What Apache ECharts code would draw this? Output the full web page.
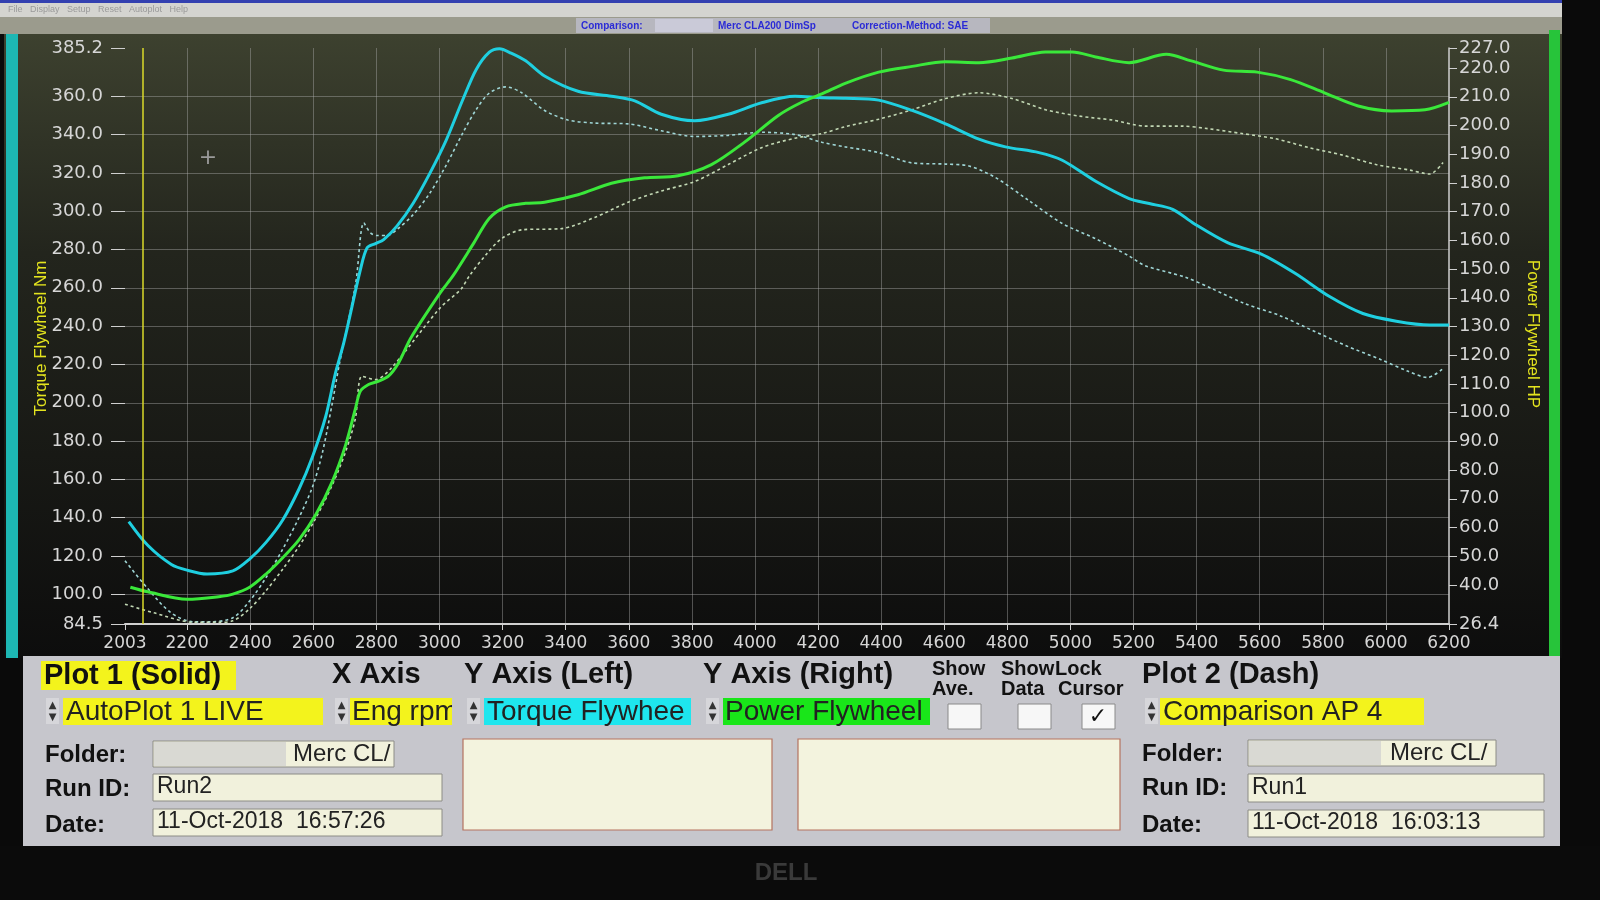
<!DOCTYPE html>
<html><head><meta charset="utf-8">
<script src="https://cdn.jsdelivr.net/npm/echarts@6/dist/echarts.min.js"></script>
<style>html,body{margin:0;padding:0;background:#0a0a0a;}#c{width:1600px;height:900px;}</style>
</head><body><div id="c"></div>
<script>
// ---------- tick labels ----------
const xTicks = [2003, 2200, 2400, 2600, 2800, 3000, 3200, 3400, 3600, 3800, 4000, 4200, 4400, 4600, 4800, 5000, 5200, 5400, 5600, 5800, 6000, 6200];
const leftTicks = [84.5, 100, 120, 140, 160, 180, 200, 220, 240, 260, 280, 300, 320, 340, 360, 385.2];
const rightTicks = [26.4, 40, 50, 60, 70, 80, 90, 100, 110, 120, 130, 140, 150, 160, 170, 180, 190, 200, 210, 220, 227];

// ---------- Plot 1 (Solid, Run2): Torque Flywheel Nm ----------
const rpmTorqueRun2 = [2015, 2075, 2150, 2200, 2263, 2345, 2398, 2450, 2503, 2555, 2597, 2639, 2670, 2697, 2750, 2771, 2797, 2823, 2865, 2917, 2970, 3022, 3074, 3116, 3158, 3190, 3227, 3273, 3333, 3439, 3545, 3619, 3703, 3809, 3915, 4021, 4127, 4212, 4286, 4392, 4498, 4604, 4710, 4794, 4900, 4974, 5080, 5186, 5250, 5324, 5391, 5498, 5605, 5712, 5820, 5927, 6033, 6139, 6200];
const torqueRun2 = [138, 125.6, 115.6, 112.6, 110.6, 112.2, 118.4, 127.1, 138.8, 155.1, 171.7, 192.7, 215.4, 231.6, 270, 281, 283.1, 285.2, 292.2, 304.3, 320, 337.4, 358.3, 373.9, 383, 384.8, 382.5, 378.5, 370.6, 362.6, 360, 357.6, 350.6, 347.2, 350.6, 356.6, 360, 359.2, 359, 358, 352.6, 345.6, 337.6, 333.6, 330.6, 326.6, 315.6, 306.6, 304, 301, 293.6, 283.6, 277.6, 267.6, 255.6, 246.6, 242.6, 240.6, 240.6];

// ---------- Plot 2 (Dash, Run1): Torque Flywheel Nm ----------
const rpmTorqueRun1 = [2003, 2072, 2147, 2221, 2274, 2345, 2398, 2450, 2503, 2555, 2597, 2628, 2660, 2681, 2734, 2760, 2781, 2802, 2834, 2865, 2917, 2970, 3022, 3074, 3116, 3158, 3210, 3259, 3333, 3407, 3492, 3598, 3703, 3809, 3915, 4021, 4127, 4212, 4286, 4392, 4498, 4604, 4678, 4762, 4868, 4974, 5080, 5186, 5236, 5363, 5448, 5555, 5662, 5769, 5876, 5983, 6068, 6132, 6180];
const torqueRun1 = [117.5, 103.6, 90.6, 85.6, 85.6, 87.8, 96.5, 108.7, 123.6, 140.2, 155.9, 173.4, 199.7, 218.9, 262, 293.9, 288.7, 287.3, 287.3, 290.4, 298.3, 309.6, 324.3, 340.9, 353, 361.7, 364.9, 362, 352.6, 347.6, 346, 345.6, 342, 339, 339.6, 341.2, 340, 336, 333.6, 330.6, 325.2, 324.6, 323.6, 317.6, 305.6, 293.6, 285.6, 276.6, 271.6, 265.6, 259.6, 251.6, 245.6, 237.6, 229.6, 222.6, 216.6, 213.2, 217.6];

// ---------- Plot 1 (Solid, Run2): Power Flywheel HP ----------
const rpmPowerRun2 = [2020, 2075, 2200, 2300, 2345, 2398, 2450, 2503, 2555, 2608, 2660, 2702, 2733, 2749, 2775, 2807, 2838, 2870, 2909, 3002, 3043, 3106, 3158, 3210, 3273, 3333, 3439, 3545, 3650, 3756, 3862, 3968, 4074, 4148, 4212, 4286, 4392, 4498, 4604, 4710, 4815, 4921, 5006, 5080, 5186, 5304, 5380, 5485, 5592, 5698, 5805, 5912, 6018, 6124, 6200];
const powerRun2 = [39.2, 37.6, 35.0, 35.9, 36.8, 39.2, 43.8, 49.5, 55.8, 64.5, 76.0, 88.6, 101.2, 107.5, 109.8, 111.0, 112.7, 117.3, 126.0, 141.7, 147.7, 158.6, 167.7, 171.7, 172.9, 173.3, 175.9, 179.9, 181.8, 182.5, 186.4, 194.3, 203.5, 208.1, 211.0, 214.7, 218.6, 220.6, 222.2, 221.9, 223.5, 225.6, 225.6, 223.9, 221.9, 224.8, 222.6, 219.3, 218.6, 216.0, 211.4, 206.8, 205.1, 205.5, 208.1];

// ---------- Plot 2 (Dash, Run1): Power Flywheel HP ----------
const rpmPowerRun1 = [2003, 2094, 2221, 2300, 2345, 2398, 2450, 2503, 2555, 2608, 2660, 2702, 2733, 2754, 2796, 2846, 3002, 3068, 3095, 3148, 3200, 3263, 3386, 3492, 3598, 3703, 3809, 3915, 4021, 4127, 4212, 4286, 4392, 4498, 4604, 4710, 4815, 4921, 5027, 5133, 5239, 5352, 5437, 5544, 5650, 5756, 5863, 5969, 6075, 6139, 6181];
const powerRun1 = [33.3, 30.3, 27.0, 27.0, 27.5, 31.7, 38.0, 45.5, 53.5, 63.3, 74.8, 86.3, 97.8, 112.7, 111.5, 115.4, 136.5, 143.0, 147.7, 155.1, 160.9, 163.7, 164.1, 168.0, 173.3, 177.2, 180.5, 186.4, 192.3, 195.6, 197.2, 199.6, 202.2, 205.5, 209.4, 211.4, 209.4, 205.5, 203.3, 201.9, 199.8, 199.8, 198.9, 197.2, 195.4, 192.3, 189.7, 186.4, 184.5, 183.1, 187.1];

const cursorRpm = 2060;

// ---------- helpers ----------
const zip = (xs, ys) => xs.map((x, i) => [x, ys[i]]);
const AR = '"Liberation Sans", Arial, sans-serif';
function rect(x, y, w, h, fill, extra) {
  return { type: 'rect', z: 10, shape: { x: x, y: y, width: w, height: h }, style: Object.assign({ fill: fill }, extra || {}) };
}
function txt(x, y, text, font, fill, align, extra) {
  return { type: 'text', z: 11, x: x, y: y, style: Object.assign({ text: text, font: font, fill: fill, align: align || 'left', verticalAlign: 'middle' }, extra || {}) };
}
function spinner(x, y) {
  return [
    rect(x, y, 13, 26, '#d6d6da'),
    txt(x + 6.5, y + 7, '▲', '10px "DejaVu Sans"', '#333', 'center'),
    txt(x + 6.5, y + 19, '▼', '10px "DejaVu Sans"', '#333', 'center')
  ];
}
function field(x, y, w, h) {
  return rect(x, y, w, h, '#f1f1dc', { stroke: '#8c8c86', lineWidth: 1 });
}
function bg(x, y, w, h, fill) { const r = rect(x, y, w, h, fill); r.z = -100; return r; }

const graphics = [
  bg(0, 0, 1600, 900, '#0a0a0a'),
  bg(0, 0, 1562, 3, '#3340b0'),
  bg(0, 3, 1562, 14, '#d4d4d0'),
  bg(0, 17, 1562, 17, '#9b9b8d'),
  bg(576, 18, 414, 15, '#b7b7bf'),
  bg(655, 19, 58, 13, '#cacad8'),
  (function () { const r = bg(4, 34, 1558, 624, '#111'); r.style.fill = { type: 'linear', x: 0, y: 0, x2: 0, y2: 1, colorStops: [{ offset: 0, color: '#3d412f' }, { offset: 0.35, color: '#23251d' }, { offset: 1, color: '#0d0d0d' }] }; return r; })(),
  bg(6, 34, 12, 624, '#1db7b3'),
  bg(1549, 30, 11, 628, '#27c43a'),
  bg(23, 656, 1537, 190, '#c6c6cc'),
  bg(0, 846, 1600, 54, '#0b0b0b'),
  txt(8, 10, 'File   Display   Setup   Reset   Autoplot   Help', '9px ' + AR, '#9a9a9a'),
  txt(581, 26, 'Comparison:', 'bold 10px ' + AR, '#2b2bd6'),
  txt(718, 26, 'Merc CLA200 DimSp', 'bold 10px ' + AR, '#2b2bd6'),
  txt(852, 26, 'Correction-Method: SAE', 'bold 10px ' + AR, '#2b2bd6'),
  txt(786, 873, 'DELL', 'bold 24px ' + AR, '#3a3a3a', 'center'),
  txt(208, 158, '+', '22px "DejaVu Sans"', '#9a9a9a', 'center'),
  // axis titles
  { type: 'text', z: 11, x: 41, y: 338, rotation: Math.PI / 2, style: { text: 'Torque Flywheel Nm', font: '17px ' + AR, fill: '#e4e41e', align: 'center', verticalAlign: 'middle' } },
  { type: 'text', z: 11, x: 1533, y: 334, rotation: -Math.PI / 2, style: { text: 'Power Flywheel HP', font: '17px ' + AR, fill: '#e4e41e', align: 'center', verticalAlign: 'middle' } },
  // panel headers
  rect(41, 661, 195, 29, '#f3f31c'),
  txt(44, 676, 'Plot 1 (Solid)', 'bold 29px ' + AR, '#111'),
  txt(332, 675, 'X Axis', 'bold 29px ' + AR, '#111'),
  txt(464, 675, 'Y Axis (Left)', 'bold 29px ' + AR, '#111'),
  txt(703, 675, 'Y Axis (Right)', 'bold 29px ' + AR, '#111'),
  txt(932, 669, 'Show', 'bold 20px ' + AR, '#111'),
  txt(932, 689, 'Ave.', 'bold 20px ' + AR, '#111'),
  txt(1001, 669, 'Show', 'bold 20px ' + AR, '#111'),
  txt(1001, 689, 'Data', 'bold 20px ' + AR, '#111'),
  txt(1055, 669, 'Lock', 'bold 20px ' + AR, '#111'),
  txt(1058, 689, 'Cursor', 'bold 20px ' + AR, '#111'),
  txt(1142, 675, 'Plot 2 (Dash)', 'bold 29px ' + AR, '#111'),
  // selectors
  ...spinner(46, 698),
  rect(63, 698, 260, 27, '#f3f31c'),
  txt(66, 712, 'AutoPlot 1 LIVE', '28px ' + AR, '#222'),
  ...spinner(335, 698),
  rect(350, 698, 102, 27, '#f3f31c'),
  txt(352, 712, 'Eng rpm', '28px ' + AR, '#222'),
  (function () { const r = rect(452, 697, 12, 29, '#c6c6cc'); r.z = 12; return r; })(),
  ...spinner(467, 698),
  rect(484, 698, 207, 27, '#1ee6ee'),
  txt(487, 712, 'Torque Flywheel', '28px ' + AR, '#222', 'left', { width: 200, overflow: 'truncate', ellipsis: '' }),
  ...spinner(706, 698),
  rect(723, 698, 207, 27, '#19e619'),
  txt(725, 712, 'Power Flywheel', '28px ' + AR, '#222'),
  rect(948, 704, 33, 25, '#f7f7f7', { stroke: '#8a8a8a', lineWidth: 1 }),
  rect(1018, 704, 33, 25, '#f7f7f7', { stroke: '#8a8a8a', lineWidth: 1 }),
  rect(1082, 704, 33, 25, '#f7f7f7', { stroke: '#8a8a8a', lineWidth: 1 }),
  txt(1098, 717, '✓', 'bold 22px "DejaVu Sans"', '#111', 'center'),
  ...spinner(1145, 698),
  rect(1160, 698, 264, 27, '#f3f31c'),
  txt(1163, 712, 'Comparison AP 4', '28px ' + AR, '#222'),
  // left run info
  txt(45, 755, 'Folder:', 'bold 24px ' + AR, '#111'),
  txt(45, 789, 'Run ID:', 'bold 24px ' + AR, '#111'),
  txt(45, 825, 'Date:', 'bold 24px ' + AR, '#111'),
  field(153, 741, 241, 26),
  rect(154, 742, 132, 24, '#d9d9d3'),
  txt(293, 754, 'Merc CL/', '24px ' + AR, '#222'),
  field(153, 774, 289, 27),
  txt(157, 787, 'Run2', '23px ' + AR, '#222'),
  field(153, 809, 289, 27),
  txt(157, 822, '11-Oct-2018  16:57:26', '23px ' + AR, '#222'),
  // empty boxes
  rect(463, 739, 309, 91, '#f3f3de', { stroke: '#b5735f', lineWidth: 1.2 }),
  rect(798, 739, 322, 91, '#f3f3de', { stroke: '#b5735f', lineWidth: 1.2 }),
  // right run info
  txt(1142, 754, 'Folder:', 'bold 24px ' + AR, '#111'),
  txt(1142, 788, 'Run ID:', 'bold 24px ' + AR, '#111'),
  txt(1142, 825, 'Date:', 'bold 24px ' + AR, '#111'),
  field(1248, 740, 248, 26),
  rect(1249, 741, 132, 24, '#d9d9d3'),
  txt(1390, 753, 'Merc CL/', '24px ' + AR, '#222'),
  field(1248, 774, 296, 28),
  txt(1252, 788, 'Run1', '23px ' + AR, '#222'),
  field(1248, 810, 296, 27),
  txt(1252, 823, '11-Oct-2018  16:03:13', '23px ' + AR, '#222')
];

const axisLabelColor = '#d6d6d6';
const gridLine = { show: true, showMinLine: false, showMaxLine: false, lineStyle: { color: 'rgba(175,175,175,0.42)', width: 1 } };
const option = {
  backgroundColor: 'transparent',
  animation: false,
  graphic: graphics,
  grid: { left: 125, right: 151, top: 48, bottom: 276, containLabel: false },
  xAxis: {
    type: 'value', min: 2003, max: 6200,
    axisLine: { show: true, lineStyle: { color: '#d0d0d0', width: 2 } },
    axisTick: { show: true, customValues: xTicks, length: 6, lineStyle: { color: '#d0d0d0' } },
    axisLabel: { customValues: xTicks, color: axisLabelColor, fontSize: 17, fontFamily: 'DejaVu Sans', margin: 11, formatter: v => String(Math.round(v)) },
    splitLine: gridLine
  },
  yAxis: [{
    type: 'value', min: 84.5, max: 385.2, position: 'left',
    axisLine: { show: false },
    axisTick: { show: true, customValues: leftTicks, length: 14, lineStyle: { color: '#cfcfcf' } },
    axisLabel: { customValues: leftTicks, color: axisLabelColor, fontSize: 18, fontFamily: 'DejaVu Sans', margin: 22, formatter: v => v.toFixed(1) },
    splitLine: gridLine
  }, {
    type: 'value', min: 26.4, max: 227, position: 'right',
    axisLine: { show: true, lineStyle: { color: '#cfcfcf', width: 1.5 } },
    axisTick: { show: true, customValues: rightTicks, length: 8, lineStyle: { color: '#cfcfcf' } },
    axisLabel: { customValues: rightTicks, color: axisLabelColor, fontSize: 18, fontFamily: 'DejaVu Sans', margin: 10, formatter: v => v.toFixed(1) },
    splitLine: { show: false }
  }],
  series: [
    { name: 'Torque Run1', type: 'line', yAxisIndex: 0, data: zip(rpmTorqueRun1, torqueRun1), smooth: 0.3, showSymbol: false, z: 3,
      lineStyle: { color: '#9fd6d6', width: 1.6, type: [3, 3] } },
    { name: 'Power Run1', type: 'line', yAxisIndex: 1, data: zip(rpmPowerRun1, powerRun1), smooth: 0.3, showSymbol: false, z: 3,
      lineStyle: { color: '#c2d8b4', width: 1.6, type: [3, 3] } },
    { name: 'Torque Run2', type: 'line', yAxisIndex: 0, data: zip(rpmTorqueRun2, torqueRun2), smooth: 0.3, showSymbol: false, z: 4,
      lineStyle: { color: '#1fcfe0', width: 3 },
      markLine: { silent: true, symbol: 'none', label: { show: false }, lineStyle: { color: '#dada2a', width: 1.5, type: 'solid' }, data: [{ xAxis: cursorRpm }] } },
    { name: 'Power Run2', type: 'line', yAxisIndex: 1, data: zip(rpmPowerRun2, powerRun2), smooth: 0.3, showSymbol: false, z: 4,
      lineStyle: { color: '#3ae83a', width: 3 } }
  ]
};
const chart = echarts.init(document.getElementById('c'), null, { renderer: 'canvas' });
chart.setOption(option);
</script>
</body></html>
